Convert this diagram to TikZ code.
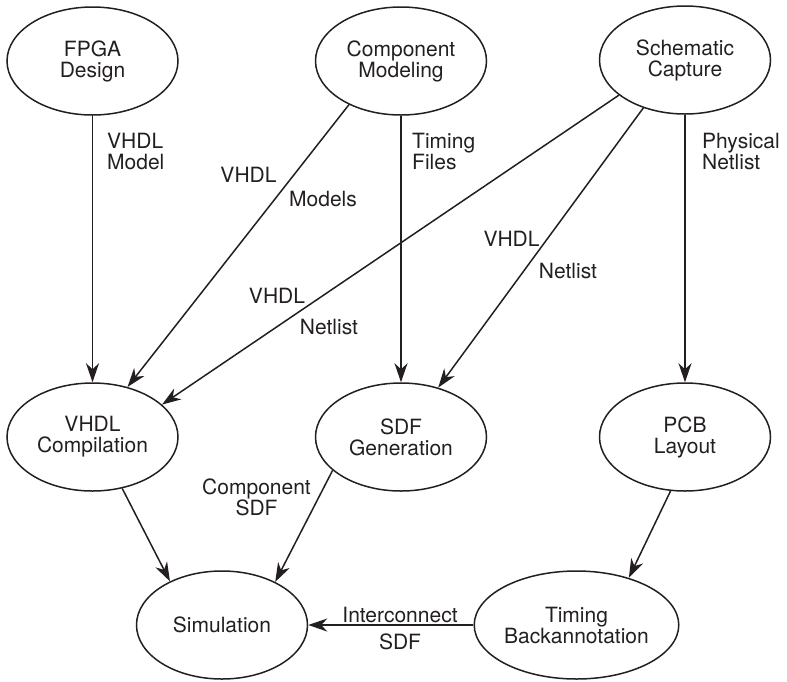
\documentclass[tikz,border=0pt]{standalone}
\usepackage{fontspec}
\setmainfont{TeX Gyre Heros}
\usetikzlibrary{shapes.geometric,arrows.meta}
\definecolor{ink}{HTML}{231F20}
\begin{document}
\begin{tikzpicture}[x=1pt,y=-1pt,
  every node/.style={text=ink,font=\fontsize{21}{21}\selectfont},
  proc/.style={ellipse,draw=ink,line width=1.5pt,minimum width=171pt,minimum height=108pt,inner sep=0pt,align=center},
  lbl/.style={inner sep=0pt,align=left},
  lblc/.style={inner sep=0pt,align=center},
  flow/.style={draw=ink,line width=1.5pt,-{Stealth[length=19pt,width=13pt,inset=6pt]}}]
\useasboundingbox (0,0) rectangle (787,681);
% process nodes
\node[proc] (F) at (92.5,61) {FPGA\\Design};
\node[proc] (C) at (401,61) {Component\\Modeling};
\node[proc] (S) at (685,60) {Schematic\\Capture};
\node[proc] (V) at (92.5,437) {VHDL\\Compilation};
\node[proc] (D) at (401,437) {SDF\\Generation};
\node[proc] (P) at (685,437) {PCB\\Layout};
\node[proc] (M) at (222,625) {Simulation};
\node[proc,minimum width=173pt] (T) at (576.5,625) {Timing\\Backannotation};
% connectors
\draw[flow] (F.south) -- (V.north);
\draw[flow] (C.220.9) -- (V.55.7);
\draw[flow] (S.208.6) -- (V.25.7);
\draw[flow] (C.south) -- (D.north);
\draw[flow] (S.229.9) -- (D.53.8);
\draw[flow] (S.south) -- (P.north);
\draw[flow] (V.300) -- (M.140.2);
\draw[flow] (D.206.9) -- (M.39.3);
\draw[flow] (P.255.5) -- (T.42.9);
\draw[flow] (T.west) -- (M.east);
% labels
\node[lbl,anchor=west] (l1) at (107,151) {VHDL\\Model};
\node[lblc] (l2) at (248.5,175) {VHDL};
\node[lblc] (l3) at (323,198.5) {Models};
\node[lblc] (l4) at (277,296) {VHDL};
\node[lblc] (l5) at (329,327) {Netlist};
\node[lbl,anchor=west] (l6) at (412,151) {Timing\\Files};
\node[lblc] (l7) at (511.5,238.5) {VHDL};
\node[lblc] (l8) at (568,270.5) {Netlist};
\node[lbl,anchor=west] (l9) at (702,151) {Physical\\Netlist};
\node[lblc] (l10) at (256.5,497) {Component\\SDF};
\node[lblc] (l11) at (400,614.5) {Interconnect};
\node[lblc] (l12) at (400,641.5) {SDF};
\end{tikzpicture}
\end{document}
